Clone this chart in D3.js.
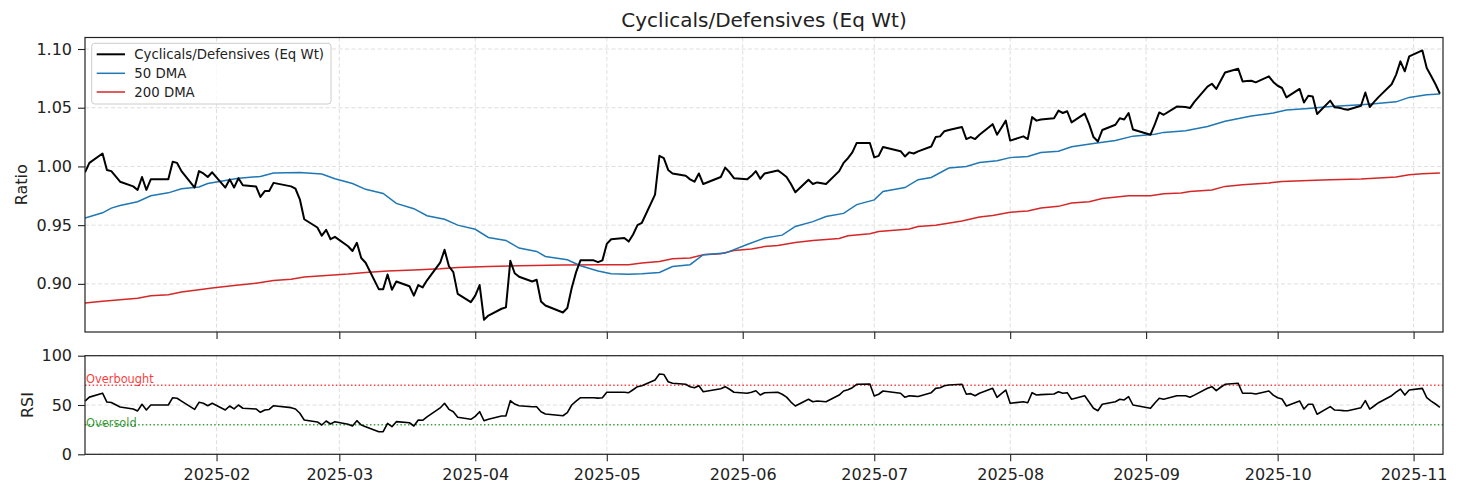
<!DOCTYPE html>
<html>
<head>
<meta charset="utf-8">
<script src="https://cdn.jsdelivr.net/npm/d3@7"></script>
<style>
  body { margin: 0; background: #fff; }
  svg text { font-family: "DejaVu Sans", sans-serif; fill: #222; }
</style>
</head>
<body>
<div id="chart"></div>
<script>
// trading days, with the ratio and its RSI for each day
const tradeDates = [
  "2025-01-02","2025-01-03","2025-01-06","2025-01-07","2025-01-08","2025-01-10","2025-01-13","2025-01-14","2025-01-15","2025-01-16",
  "2025-01-17","2025-01-21","2025-01-22","2025-01-23","2025-01-24","2025-01-27","2025-01-28","2025-01-29","2025-01-30","2025-01-31",
  "2025-02-03","2025-02-04","2025-02-05","2025-02-06","2025-02-07","2025-02-10","2025-02-11","2025-02-12","2025-02-13","2025-02-14",
  "2025-02-18","2025-02-19","2025-02-20","2025-02-21","2025-02-24","2025-02-25","2025-02-26","2025-02-27","2025-02-28",
  "2025-03-03","2025-03-04","2025-03-05","2025-03-06","2025-03-07","2025-03-10","2025-03-11","2025-03-12","2025-03-13","2025-03-14",
  "2025-03-17","2025-03-18","2025-03-19","2025-03-20","2025-03-21","2025-03-24","2025-03-25","2025-03-26","2025-03-27","2025-03-28","2025-03-31",
  "2025-04-01","2025-04-02","2025-04-03","2025-04-04","2025-04-07","2025-04-08","2025-04-09","2025-04-10","2025-04-11","2025-04-14",
  "2025-04-15","2025-04-16","2025-04-17","2025-04-21","2025-04-22","2025-04-23","2025-04-24","2025-04-25","2025-04-28","2025-04-29","2025-04-30",
  "2025-05-01","2025-05-02","2025-05-05","2025-05-06","2025-05-07","2025-05-08","2025-05-09","2025-05-12","2025-05-13","2025-05-14",
  "2025-05-15","2025-05-16","2025-05-19","2025-05-20","2025-05-21","2025-05-22","2025-05-23","2025-05-27","2025-05-28","2025-05-29","2025-05-30",
  "2025-06-02","2025-06-03","2025-06-04","2025-06-05","2025-06-06","2025-06-09","2025-06-10","2025-06-11","2025-06-12","2025-06-13",
  "2025-06-16","2025-06-17","2025-06-18","2025-06-20","2025-06-23","2025-06-24","2025-06-25","2025-06-26","2025-06-27","2025-06-30",
  "2025-07-01","2025-07-02","2025-07-03","2025-07-07","2025-07-08","2025-07-09","2025-07-10","2025-07-11","2025-07-14","2025-07-15",
  "2025-07-16","2025-07-17","2025-07-18","2025-07-21","2025-07-22","2025-07-23","2025-07-24","2025-07-25","2025-07-28","2025-07-29","2025-07-30","2025-07-31",
  "2025-08-01","2025-08-04","2025-08-05","2025-08-06","2025-08-07","2025-08-08","2025-08-11","2025-08-12","2025-08-13","2025-08-14",
  "2025-08-15","2025-08-18","2025-08-19","2025-08-20","2025-08-21","2025-08-22","2025-08-25","2025-08-26","2025-08-27","2025-08-28","2025-08-29",
  "2025-09-02","2025-09-03","2025-09-04","2025-09-05","2025-09-08","2025-09-09","2025-09-10","2025-09-11","2025-09-12","2025-09-15",
  "2025-09-16","2025-09-17","2025-09-18","2025-09-19","2025-09-22","2025-09-23","2025-09-24","2025-09-25","2025-09-26","2025-09-29","2025-09-30",
  "2025-10-01","2025-10-02","2025-10-03","2025-10-06","2025-10-07","2025-10-08","2025-10-09","2025-10-10","2025-10-13","2025-10-14",
  "2025-10-15","2025-10-16","2025-10-17","2025-10-20","2025-10-21","2025-10-22","2025-10-23","2025-10-24","2025-10-27","2025-10-28",
  "2025-10-29","2025-10-30","2025-10-31",
  "2025-11-03","2025-11-04","2025-11-05","2025-11-06","2025-11-07"
]

const ratioValues = [
  0.995,1.003,1.011,0.997,0.996,0.987,0.983,0.980,0.991,0.980,
  0.989,0.989,1.004,1.003,0.996,0.982,0.996,0.994,0.991,0.995,
  0.982,0.989,0.982,0.990,0.984,0.983,0.974,0.979,0.979,0.986,
  0.983,0.981,0.972,0.955,0.948,0.941,0.946,0.938,0.940,
  0.932,0.928,0.935,0.922,0.918,0.8955,0.8955,0.908,0.895,0.902,
  0.898,0.890,0.899,0.897,0.903,0.918,0.929,0.915,0.910,0.8915,0.8844,
  0.890,0.899,0.8694,0.873,0.8788,0.880,0.9196,0.909,0.906,0.902,
  0.9035,0.885,0.8816,0.8756,0.8794,0.8964,0.910,0.920,0.920,0.9185,0.920,
  0.934,0.938,0.939,0.936,0.942,0.950,0.952,0.976,1.009,1.007,
  0.997,0.994,0.992,0.989,0.987,0.994,0.985,0.991,0.999,0.995,0.990,
  0.989,0.992,0.996,0.9895,0.994,0.9966,0.994,0.991,0.985,0.978,
  0.9887,0.985,0.9864,0.985,0.996,1.003,1.007,1.012,1.020,1.020,
  1.0077,1.009,1.0165,1.013,1.0085,1.012,1.011,1.0128,1.017,1.025,
  1.0256,1.030,1.031,1.0336,1.0233,1.025,1.0233,1.027,1.036,1.027,1.033,1.039,
  1.022,1.0256,1.0233,1.042,1.039,1.040,1.041,1.0475,1.0455,1.047,
  1.0375,1.045,1.036,1.025,1.0213,1.031,1.0355,1.041,1.040,1.0455,1.0315,
  1.027,1.036,1.046,1.044,1.051,1.0508,1.0506,1.0497,1.055,1.068,
  1.0704,1.066,1.073,1.080,1.0832,1.0724,1.0727,1.073,1.0716,1.0767,1.072,
  1.0687,1.0668,1.0588,1.066,1.0545,1.0602,1.0596,1.0446,1.056,1.0503,
  1.050,1.049,1.0483,1.0517,1.063,1.0506,1.055,1.059,1.070,1.078,
  1.0895,1.081,1.0937,
  1.0988,1.0838,1.077,1.070,1.062
]

const rsiValues = [
  54,58,62,53,52.5,48,46,44,50.7,45,
  50,50,57.4,56.8,54,45.6,52.7,51.7,49.3,51.7,
  45,49,46,50,46.7,46,42.6,44.9,45.5,49.3,
  47.3,46,41.6,34.8,32.8,29.7,33.8,30.7,33.1,
  30.5,28.7,34.1,29.7,28,22.9,22.9,31.4,28,33.1,
  32,28.7,34.8,34.5,38,47,51.7,45.6,43.2,37.5,35.5,
  38.5,43.2,34,35.5,38.8,39,54.4,51,49.3,48.3,
  48.3,43.2,40.9,39.1,42.2,50,54,57.4,57.4,57,57.4,
  62.9,62.9,62.9,62.5,65.5,68.6,69.6,75.4,81.4,81,
  73.6,72,71,68.5,67.5,69.6,63.5,66.5,68.6,66,62.9,
  61.9,63,64.5,60.1,62.5,62.9,60.9,58,53,49,
  55.8,53.3,54.1,53.3,60.1,64.2,65.5,67.5,71,71.3,
  59.1,60.9,64.2,61.9,57.8,59.4,59,58.6,62.5,66.9,
  67.5,69.5,70.3,71,60.9,61.5,59.4,61.9,66.9,57.8,61.5,65.2,
  51.7,53.3,52.3,62.5,60.1,60.5,61.2,63.5,61.9,62.5,
  55.8,59.4,53,46.7,44.2,50.7,53.3,55.8,55.1,58.4,50,
  46.7,52,56.8,55.8,59.4,59.4,59.4,57.8,60,67,
  68.6,64.5,68,71,72,61.9,61.9,61.9,61.2,64.2,60,
  57.4,56.1,49,54.1,45.9,50.7,50.7,40.6,48.3,44.9,
  44.6,44.3,44.2,47.3,54.4,45.9,49,52.3,59.4,63,
  66.2,60.1,65.2,
  66.9,57.4,54,51,47.7
]

// moving averages, read roughly twice a week
const dma50Dates = [
  "2025-01-02","2025-01-06","2025-01-08","2025-01-10","2025-01-14","2025-01-17","2025-01-21","2025-01-24","2025-01-28","2025-01-30",
  "2025-02-06","2025-02-11","2025-02-14","2025-02-20","2025-02-25","2025-02-28","2025-03-04","2025-03-07","2025-03-11","2025-03-14",
  "2025-03-18","2025-03-21","2025-03-25","2025-03-28","2025-04-01","2025-04-04","2025-04-08","2025-04-11","2025-04-15","2025-04-17",
  "2025-04-22","2025-04-25","2025-04-29","2025-05-02","2025-05-06","2025-05-09","2025-05-13","2025-05-16","2025-05-20","2025-05-23",
  "2025-05-28","2025-06-02","2025-06-06","2025-06-10","2025-06-13","2025-06-17","2025-06-20","2025-06-24","2025-06-27","2025-07-01",
  "2025-07-03","2025-07-08","2025-07-11","2025-07-14","2025-07-18","2025-07-22","2025-07-25","2025-07-29","2025-08-01","2025-08-05",
  "2025-08-08","2025-08-12","2025-08-15","2025-08-20","2025-08-25","2025-08-29","2025-09-03","2025-09-05","2025-09-10","2025-09-15",
  "2025-09-19","2025-09-25","2025-09-30","2025-10-03","2025-10-08","2025-10-13","2025-10-20","2025-10-23","2025-10-28","2025-10-31",
  "2025-11-04","2025-11-07"
]
const dma50Values = [
  0.956,0.9605,0.9645,0.9668,0.970,0.975,0.9775,0.981,0.9825,0.9855,
  0.990,0.9915,0.9944,0.9949,0.9935,0.9895,0.9855,0.9805,0.977,0.9685,
  0.964,0.958,0.955,0.950,0.9465,0.9395,0.937,0.9305,0.9276,0.9233,
  0.9205,0.9154,0.911,0.9086,0.9082,0.9086,0.9097,0.9148,0.9163,0.9248,
  0.9262,0.9335,0.939,0.9415,0.9489,0.953,0.9574,0.960,0.9675,0.9715,
  0.9787,0.982,0.9887,0.9906,0.9986,1.000,1.0034,1.0049,1.0075,1.0085,
  1.0118,1.013,1.0167,1.0195,1.022,1.0258,1.0275,1.029,1.0304,1.034,
  1.0385,1.043,1.0455,1.048,1.0494,1.051,1.0526,1.0534,1.055,1.0588,
  1.061,1.0617
]

const dma200Dates = [
  "2025-01-02","2025-01-06","2025-01-10","2025-01-14","2025-01-17","2025-01-21","2025-01-24","2025-01-28","2025-01-31","2025-02-05",
  "2025-02-10","2025-02-14","2025-02-18","2025-02-21","2025-02-26","2025-03-03","2025-03-07","2025-03-12","2025-03-18","2025-03-24",
  "2025-03-28","2025-04-04","2025-04-11","2025-04-21","2025-04-30","2025-05-06","2025-05-09","2025-05-13","2025-05-16","2025-05-20",
  "2025-05-23","2025-05-27","2025-05-30","2025-06-03","2025-06-06","2025-06-09","2025-06-13","2025-06-17","2025-06-23","2025-06-25",
  "2025-06-30","2025-07-02","2025-07-07","2025-07-09","2025-07-11","2025-07-15","2025-07-21","2025-07-25","2025-07-28","2025-08-01",
  "2025-08-05","2025-08-08","2025-08-12","2025-08-15","2025-08-19","2025-08-22","2025-08-28","2025-09-02","2025-09-05","2025-09-09",
  "2025-09-11","2025-09-16","2025-09-19","2025-09-23","2025-09-29","2025-10-02","2025-10-08","2025-10-13","2025-10-20","2025-10-23",
  "2025-10-28","2025-10-31","2025-11-03","2025-11-07"
]
const dma200Values = [
  0.8836,0.8852,0.8865,0.8878,0.8898,0.8907,0.893,0.895,0.8964,0.8986,
  0.9006,0.9029,0.904,0.9058,0.9071,0.9083,0.9097,0.9109,0.9117,0.9128,
  0.914,0.9148,0.9155,0.916,0.9162,0.9163,0.9177,0.919,0.9214,0.922,
  0.9248,0.9256,0.9284,0.9296,0.9318,0.9327,0.9353,0.937,0.9387,0.941,
  0.9427,0.9446,0.9461,0.9467,0.9489,0.950,0.9535,0.957,0.9583,0.961,
  0.962,0.9646,0.966,0.9688,0.970,0.9726,0.975,0.975,0.9767,0.9773,
  0.9787,0.980,0.983,0.9844,0.9859,0.9872,0.988,0.9887,0.9893,0.990,
  0.991,0.993,0.9938,0.9944
]

// ticks and reference levels
const monthTicks = ["2025-02-01","2025-03-01","2025-04-01","2025-05-01","2025-06-01","2025-07-01","2025-08-01","2025-09-01","2025-10-01","2025-11-01"]
const ratioTicks = [0.90, 0.95, 1.00, 1.05, 1.10]
const rsiTicks = [0, 50, 100]
const overbought = 70
const oversold = 30

const seriesNames = ["Cyclicals/Defensives (Eq Wt)", "50 DMA", "200 DMA"]
const seriesColors = ["#000000", "#1f77b4", "#d62728"]

const width = 1460
const height = 495
const left = 85, right = 1443
const mainTop = 37.5, mainBottom = 332
const rsiTop = 355.7, rsiBottom = 454.3

const parse = d3.timeParse('%Y-%m-%d')
const toPoints = (dates, values) => dates.map((d, i) => ({ date: parse(d), value: values[i] }))
const ratioData = toPoints(tradeDates, ratioValues)
const rsiData = toPoints(tradeDates, rsiValues)
const dma50Data = toPoints(dma50Dates, dma50Values)
const dma200Data = toPoints(dma200Dates, dma200Values)
const tickDates = monthTicks.map(parse)

//scales: data runs from the first trading day to the last one, no padding
const xScale = d3.scaleTime()
  .domain([parse("2025-01-02"), new Date(2025, 10, 7, 17)])
  .range([left, right])
const yScale = d3.scaleLinear().domain([0.859, 1.1098]).range([mainBottom, mainTop])
const rsiScale = d3.scaleLinear().domain([0, 100]).range([rsiBottom, rsiTop])

const svg = d3.select('div#chart').append('svg').attr('width', width).attr('height', height)

const gridColor = '#d6d6d6'
function grid(g, y0, y1, yTicks, yS) {
  g.selectAll('line.vx').data(tickDates).enter().append('line')
    .attr('x1', d => xScale(d)).attr('x2', d => xScale(d))
    .attr('y1', y0).attr('y2', y1)
    .attr('stroke', gridColor).attr('stroke-width', 0.8).attr('stroke-dasharray', '4,2.5')
  g.selectAll('line.hy').data(yTicks).enter().append('line')
    .attr('x1', left).attr('x2', right)
    .attr('y1', d => yS(d)).attr('y2', d => yS(d))
    .attr('stroke', gridColor).attr('stroke-width', 0.8).attr('stroke-dasharray', '4,2.5')
}
grid(svg.append('g'), mainTop, mainBottom, ratioTicks, yScale)
grid(svg.append('g'), rsiTop, rsiBottom, rsiTicks, rsiScale)

// main panel lines
const clipMain = svg.append('clipPath').attr('id', 'clip-main')
clipMain.append('rect').attr('x', left).attr('y', mainTop).attr('width', right - left).attr('height', mainBottom - mainTop)
const line = d3.line().x(d => xScale(d.date)).y(d => yScale(d.value))
const mainG = svg.append('g').attr('clip-path', 'url(#clip-main)')
mainG.append('path').datum(dma200Data).attr('d', line)
  .attr('fill', 'none').attr('stroke', seriesColors[2]).attr('stroke-width', 1.5)
mainG.append('path').datum(dma50Data).attr('d', line)
  .attr('fill', 'none').attr('stroke', seriesColors[1]).attr('stroke-width', 1.5)
mainG.append('path').datum(ratioData).attr('d', line)
  .attr('fill', 'none').attr('stroke', seriesColors[0]).attr('stroke-width', 2)
  .attr('stroke-linejoin', 'round')

// rsi panel
svg.append('line').attr('x1', left).attr('x2', right)
  .attr('y1', rsiScale(overbought)).attr('y2', rsiScale(overbought))
  .attr('stroke', 'red').attr('stroke-opacity', 0.75).attr('stroke-width', 1.5).attr('stroke-dasharray', '1.5,2.3')
svg.append('line').attr('x1', left).attr('x2', right)
  .attr('y1', rsiScale(oversold)).attr('y2', rsiScale(oversold))
  .attr('stroke', 'green').attr('stroke-opacity', 0.75).attr('stroke-width', 1.5).attr('stroke-dasharray', '1.5,2.3')
const rsiLine = d3.line().x(d => xScale(d.date)).y(d => rsiScale(d.value))
svg.append('path').datum(rsiData).attr('d', rsiLine)
  .attr('fill', 'none').attr('stroke', '#000').attr('stroke-width', 1.6).attr('stroke-linejoin', 'round')
svg.append('text').attr('x', left + 1).attr('y', rsiScale(72)).text('Overbought')
  .style('font-size', '11.4px').style('fill', 'red').attr('fill-opacity', 0.8)
svg.append('text').attr('x', left + 1).attr('y', rsiScale(28)).text('Oversold')
  .style('font-size', '11.4px').style('fill', 'green').attr('fill-opacity', 0.8)

// spines
svg.append('rect').attr('x', left).attr('y', mainTop).attr('width', right - left).attr('height', mainBottom - mainTop)
  .attr('fill', 'none').attr('stroke', '#222').attr('stroke-width', 1.2)
svg.append('rect').attr('x', left).attr('y', rsiTop).attr('width', right - left).attr('height', rsiBottom - rsiTop)
  .attr('fill', 'none').attr('stroke', '#222').attr('stroke-width', 1.2)

// axes
function styleAxis(g) {
  g.select('.domain').remove()
  g.selectAll('.tick line').attr('stroke', '#222').attr('stroke-width', 1.1)
  g.selectAll('.tick text').style('font-size', '16px').style('fill', '#222')
}
svg.append('g').attr('transform', 'translate(' + left + ',0)')
  .call(d3.axisLeft(yScale).tickValues(ratioTicks).tickFormat(d3.format('.2f')).tickSize(7).tickPadding(6))
  .call(styleAxis)
svg.append('g').attr('transform', 'translate(0,' + mainBottom + ')')
  .call(d3.axisBottom(xScale).tickValues(tickDates).tickFormat('').tickSize(7))
  .call(styleAxis)
svg.append('g').attr('transform', 'translate(' + left + ',0)')
  .call(d3.axisLeft(rsiScale).tickValues(rsiTicks).tickFormat(d3.format('d')).tickSize(7).tickPadding(6))
  .call(styleAxis)
svg.append('g').attr('transform', 'translate(0,' + rsiBottom + ')')
  .call(d3.axisBottom(xScale).tickValues(tickDates).tickFormat(d3.timeFormat('%Y-%m')).tickSize(7).tickPadding(7))
  .call(styleAxis)

// labels
svg.append('text').attr('x', (left + right) / 2).attr('y', 27.3).attr('text-anchor', 'middle')
  .style('font-size', '20px').text('Cyclicals/Defensives (Eq Wt)')
svg.append('text').attr('transform', 'translate(27.3,' + ((mainTop + mainBottom) / 2) + ') rotate(-90)')
  .attr('text-anchor', 'middle').style('font-size', '16px').text('Ratio')
svg.append('text').attr('transform', 'translate(33.3,' + ((rsiTop + rsiBottom) / 2) + ') rotate(-90)')
  .attr('text-anchor', 'middle').style('font-size', '16px').text('RSI')

// legend
const legend = svg.append('g')
legend.append('rect').attr('x', 91.7).attr('y', 43.3).attr('width', 239.3).attr('height', 60.7)
  .attr('rx', 3).attr('fill', '#fff').attr('fill-opacity', 0.8).attr('stroke', '#cccccc').attr('stroke-width', 1)
const rowY = [54.3, 73.3, 92]
seriesNames.forEach(function(name, i) {
  legend.append('line').attr('x1', 96.7).attr('x2', 125).attr('y1', rowY[i]).attr('y2', rowY[i])
    .attr('stroke', seriesColors[i]).attr('stroke-width', i === 0 ? 2 : 1.5)
  legend.append('text').attr('x', 134.3).attr('y', rowY[i]).attr('dy', '0.35em')
    .style('font-size', '13.3px').text(name)
})
</script>
</body>
</html>
